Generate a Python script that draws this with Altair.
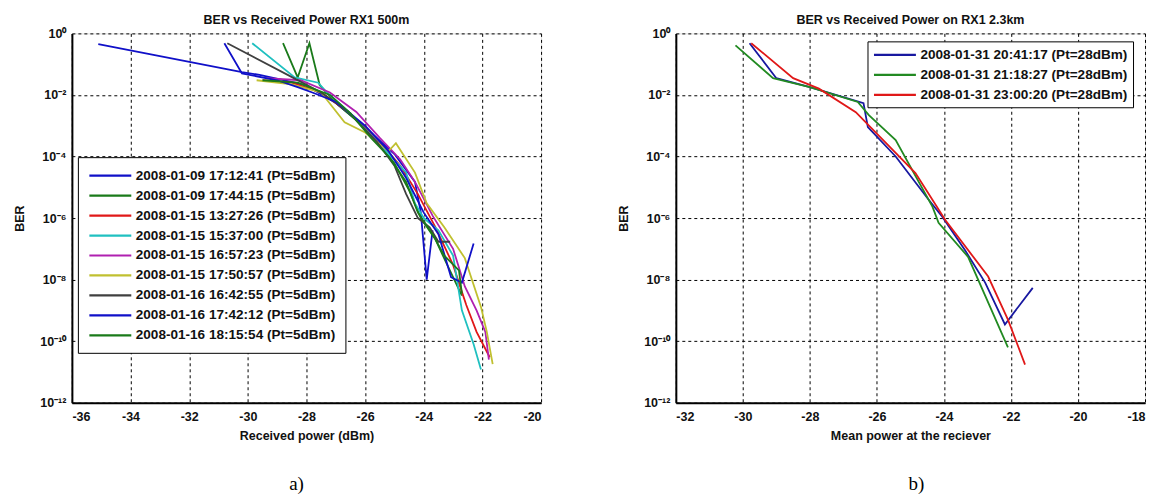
import altair as alt
import pandas as pd
import math

# ---------------- data ----------------
left_names = [
    "2008-01-09 17:12:41 (Pt=5dBm)",
    "2008-01-09 17:44:15 (Pt=5dBm)",
    "2008-01-15 13:27:26 (Pt=5dBm)",
    "2008-01-15 15:37:00 (Pt=5dBm)",
    "2008-01-15 16:57:23 (Pt=5dBm)",
    "2008-01-15 17:50:57 (Pt=5dBm)",
    "2008-01-16 16:42:55 (Pt=5dBm)",
    "2008-01-16 17:42:12 (Pt=5dBm)",
    "2008-01-16 18:15:54 (Pt=5dBm)",
]
left_colors = ["#1010c8", "#1a7a1a", "#e01818", "#20c0c0", "#b020b0",
               "#c0c030", "#404040", "#1010c8", "#1a7a1a"]

s1_x = [-35.1, -30.2, -29.6, -28.4, -28.0, -27.0, -26.0, -25.0, -24.3, -24.1, -23.9, -23.7]
s1_y = [0.45, 0.055, 0.045, 0.025, 0.02, 0.0055, 9e-4, 1.2e-4, 1.5e-5, 1.5e-6, 1e-8, 4e-7]
s2_x = [-28.8, -28.3, -27.9, -27.55, -27.0, -26.3, -25.6, -25.0, -24.5, -24.1, -23.6, -23.2, -22.7]
s2_y = [0.48, 0.037, 0.48, 0.021, 0.0055, 1.5e-3, 3e-4, 6e-5, 8e-6, 1e-6, 2e-7, 3e-8, 3e-9]
s3_x = [-29.5, -28.5, -27.5, -26.5, -25.5, -24.8, -24.2, -23.6, -23.0, -22.7, -22.55, -22.2, -21.75]
s3_y = [0.03, 0.025, 0.012, 2.5e-3, 3e-4, 5e-5, 6e-6, 5e-7, 3e-8, 4e-9, 1.5e-9, 2e-10, 3e-11]
s4_x = [-29.85, -28.4, -27.6, -27.3, -26.5, -25.5, -24.6, -24.3, -24.0, -23.5, -23.0, -22.7, -22.3, -22.05]
s4_y = [0.48, 0.037, 0.025, 0.012, 2.5e-3, 2.5e-4, 3e-5, 3e-6, 1e-6, 4e-7, 6e-8, 1e-9, 8e-11, 1.2e-11]
s5_x = [-29.4, -28.2, -27.2, -26.3, -25.5, -24.8, -24.3, -23.7, -23.0, -22.6, -22.2, -21.9, -21.78]
s5_y = [0.035, 0.03, 0.012, 2.8e-3, 4e-4, 8e-5, 1.5e-5, 1.2e-6, 1e-7, 6e-9, 1e-9, 2e-10, 2.5e-11]
s6_x = [-29.7, -28.5, -27.5, -26.7, -26.0, -25.2, -24.95, -24.3, -23.9, -23.3, -22.6, -22.05, -21.85, -21.65]
s6_y = [0.03, 0.022, 0.012, 1.3e-3, 6e-4, 1.5e-4, 2.7e-4, 3e-5, 3e-6, 5e-7, 5e-8, 1.3e-9, 2e-10, 1.8e-11]
s7_x = [-30.7, -28.35, -27.5, -26.6, -25.6, -25.0, -24.6, -24.2, -23.8, -23.5, -23.1]
s7_y = [0.48, 0.032, 0.012, 3e-3, 3e-4, 5e-5, 6e-6, 1e-6, 5e-7, 1.7e-7, 1.7e-7]
s8_x = [-30.8, -30.2, -29.0, -28.3, -27.8, -27.0, -26.0, -25.2, -24.6, -24.0, -23.5, -23.07, -22.7, -22.3]
s8_y = [0.48, 0.05, 0.03, 0.018, 0.012, 0.006, 1e-3, 1.5e-4, 2e-5, 1.5e-6, 3e-7, 1.2e-8, 8e-9, 1.5e-7]
s9_x = [-29.5, -28.3, -27.2, -26.5, -25.8, -25.2, -24.6, -24.2, -23.7, -23.3, -22.8, -22.7]
s9_y = [0.03, 0.025, 0.01, 2.5e-3, 4e-4, 1e-4, 1.5e-5, 1.5e-6, 3e-7, 6e-8, 2e-8, 3.5e-9]
left_xs = [s1_x, s2_x, s3_x, s4_x, s5_x, s6_x, s7_x, s8_x, s9_x]
left_ys = [s1_y, s2_y, s3_y, s4_y, s5_y, s6_y, s7_y, s8_y, s9_y]

right_names = [
    "2008-01-31 20:41:17 (Pt=28dBm)",
    "2008-01-31 21:18:27 (Pt=28dBm)",
    "2008-01-31 23:00:20 (Pt=28dBm)",
]
right_colors = ["#1818a0", "#228a22", "#e01818"]
r1_x = [-29.8, -29.0, -28.0, -26.4, -26.27, -25.44, -24.46, -24.05, -23.37, -22.77, -22.18, -21.35]
r1_y = [0.48, 0.035, 0.018, 5.4e-3, 9e-4, 1e-4, 4e-6, 1.1e-6, 9e-8, 8e-9, 3.5e-10, 5.4e-9]
r2_x = [-30.22, -29.1, -28.0, -26.57, -26.24, -25.44, -24.34, -24.16, -23.28, -22.09]
r2_y = [0.41, 0.035, 0.018, 5.9e-3, 2.2e-3, 3.4e-4, 2.3e-6, 7e-7, 5.5e-8, 6.3e-11]
r3_x = [-29.75, -28.5, -27.73, -26.63, -24.85, -23.96, -22.68, -22.09, -21.58]
r3_y = [0.48, 0.035, 0.016, 2.75e-3, 2.9e-5, 8.7e-7, 1.26e-8, 5e-10, 1.74e-11]
right_xs = [r1_x, r2_x, r3_x]
right_ys = [r1_y, r2_y, r3_y]

y_ticks = [1, 1e-2, 1e-4, 1e-6, 1e-8, 1e-10, 1e-12]
y_tick_labels = ["10⁰", "10⁻²", "10⁻⁴", "10⁻⁶", "10⁻⁸", "10⁻¹⁰", "10⁻¹²"]
left_x_ticks = [-36, -34, -32, -30, -28, -26, -24, -22, -20]
right_x_ticks = [-32, -30, -28, -26, -24, -22, -20, -18]

titles = ["BER vs Received Power RX1 500m", "BER vs Received Power on RX1 2.3km"]
x_titles = ["Received power (dBm)", "Mean power at the reciever"]
captions = ["a)", "b)"]

# ---------------- helpers ----------------
FONT = "Liberation Sans"


def frame(names, xs, ys):
    rows = []
    for name, x, y in zip(names, xs, ys):
        for i, (a, b) in enumerate(zip(x, y)):
            rows.append({"series": name, "x": a, "y": b, "i": i})
    return pd.DataFrame(rows)


label_expr = ""
for v, t in zip(y_ticks, y_tick_labels):
    label_expr += f"abs(log(datum.value)/LN10 - ({round(math.log10(v))})) < 0.01 ? '{t}' : "
label_expr += "''"


def panel(names, colors, xs, ys, xdom, xticks, title, xtitle, caption,
          legx, legy, legpad, cap_x):
    df = frame(names, xs, ys)
    lines = alt.Chart(df).mark_line(strokeWidth=1.8, clip=True).encode(
        x=alt.X("x:Q",
                scale=alt.Scale(domain=xdom, nice=False, zero=False),
                axis=alt.Axis(values=xticks, title=xtitle,
                              labelExpr="'' + datum.value",
                              grid=True, gridColor="black", gridDash=[3, 3],
                              gridOpacity=1, gridWidth=1,
                              domainColor="black", domainWidth=2,
                              ticks=False, labelPadding=8,
                              labelFont=FONT, labelFontSize=12.5,
                              labelFontWeight="bold", labelColor="#111",
                              titleFont=FONT, titleFontSize=12.5,
                              titleFontWeight="bold", titleColor="#111",
                              titlePadding=6)),
        y=alt.Y("y:Q",
                scale=alt.Scale(type="log", domain=[1e-12, 1], nice=False),
                axis=alt.Axis(values=y_ticks, labelExpr=label_expr, title="BER",
                              grid=True, gridColor="black", gridDash=[3, 3],
                              gridOpacity=1, gridWidth=1,
                              domainColor="black", domainWidth=2,
                              ticks=False, labelPadding=6,
                              labelFont=FONT, labelFontSize=12.5,
                              labelFontWeight="bold", labelColor="#111",
                              titleFont=FONT, titleFontSize=12.5,
                              titleFontWeight="bold", titleColor="#111",
                              minExtent=36, maxExtent=36, titlePadding=9)),
        color=alt.Color("series:N",
                        scale=alt.Scale(domain=names, range=colors),
                        sort=names,
                        legend=alt.Legend(
                            title=None, orient="none",
                            legendX=legx, legendY=legy,
                            symbolType="M-1,0H5", symbolSize=196,
                            symbolStrokeWidth=2.2,
                            labelOffset=31,
                            labelFont=FONT, labelFontSize=13.6,
                            labelFontWeight="bold", labelColor="#111",
                            labelLimit=400,
                            rowPadding=4,
                            padding=legpad,
                            strokeColor="black", fillColor="white")),
        order="i:Q",
    )
    cap = alt.Chart(pd.DataFrame({"t": [caption]})).mark_text(
        font="Liberation Serif", fontSize=19, color="black", baseline="middle"
    ).encode(text="t:N", x=alt.value(cap_x), y=alt.value(451))
    return alt.layer(lines, cap).properties(
        width=470, height=370,
        title=alt.TitleParams(title, font=FONT, fontSize=12.5,
                              fontWeight="bold", color="#111", offset=1),
    )


left = panel(left_names, left_colors, left_xs, left_ys, [-36, -20],
             left_x_ticks, titles[0], x_titles[0], captions[0], 6, 124, 10, 225)
right = panel(right_names, right_colors, right_xs, right_ys, [-32, -18],
              right_x_ticks, titles[1], x_titles[1], captions[1], 192, 8, 5, 241)

chart = alt.hconcat(left, right, spacing=75).resolve_scale(
    color="independent", x="independent"
).resolve_legend(color="independent").configure_view(stroke=None).configure(
    background="white"
)

chart.save("out.html", embed_options={"renderer": "svg", "actions": False})
